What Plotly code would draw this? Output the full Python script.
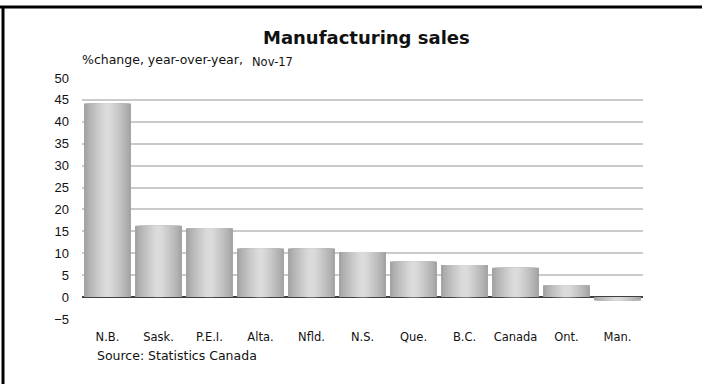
import plotly.graph_objects as go

categories = ["N.B.", "Sask.", "P.E.I.", "Alta.", "Nfld.", "N.S.", "Que.", "B.C.", "Canada", "Ont.", "Man."]
values = [44.2, 16.3, 15.7, 11.1, 11.1, 10.3, 8.1, 7.3, 6.7, 2.7, -0.8]
y_ticks = [-5, 0, 5, 10, 15, 20, 25, 30, 35, 40, 45, 50]

# layered bars to imitate the cylindrical gradient shading
n_layers = 12
layers = []
for i in range(n_layers):
    t = i / (n_layers - 1)
    w = 0.92 - t * (0.92 - 0.12)
    g = int(round(0xa2 + (0xdb - 0xa2) * (t ** 0.8)))
    layers.append((w, "#%02x%02x%02x" % (g, g, g)))

fig = go.Figure()
for w, c in layers:
    fig.add_trace(go.Bar(
        x=categories, y=values, width=w,
        marker=dict(color=c, line=dict(width=0)),
        hoverinfo="skip", showlegend=False,
    ))

L, R, T, B = 82, 59, 78, 65
W, H = 702, 384
pw, ph = W - L - R, H - T - B

def px(x):
    return (x - L) / pw

def py(y):
    return (H - B - y) / ph

fig.update_layout(
    width=W, height=H,
    margin=dict(l=L, r=R, t=T, b=B),
    paper_bgcolor="white", plot_bgcolor="white",
    barmode="overlay",
    bargap=0.08,
    font=dict(family="DejaVu Sans", color="#111"),
    xaxis=dict(
        showgrid=False, showline=False, ticks="",
        tickfont=dict(family="DejaVu Sans", size=11.5, color="#111"),
        ticklabelstandoff=9,
        fixedrange=True,
    ),
    yaxis=dict(
        range=[-5, 50], tickvals=y_ticks,
        showgrid=True, gridcolor="#cacaca", gridwidth=1.5,
        zeroline=True, zerolinecolor="#404040", zerolinewidth=2,
        showline=False, ticks="",
        tickfont=dict(family="Liberation Sans", size=13, color="#111"),
        ticklabelstandoff=12,
        fixedrange=True,
    ),
    annotations=[
        dict(text="<b>Manufacturing sales</b>", xref="paper", yref="paper",
             x=px(366), y=py(38), xanchor="center", yanchor="middle",
             showarrow=False, font=dict(family="DejaVu Sans", size=18, color="#111")),
        dict(text="%change, year-over-year,", xref="paper", yref="paper",
             x=px(80), y=py(59), xanchor="left", yanchor="middle",
             showarrow=False, font=dict(family="DejaVu Sans", size=12.5, color="#111")),
        dict(text="Nov-17", xref="paper", yref="paper",
             x=px(250), y=py(62), xanchor="left", yanchor="middle",
             showarrow=False, font=dict(family="DejaVu Sans", size=11.5, color="#111")),
        dict(text="Source: Statistics Canada", xref="paper", yref="paper",
             x=px(95), y=py(355), xanchor="left", yanchor="middle",
             showarrow=False, font=dict(family="DejaVu Sans", size=12.5, color="#111")),
    ],
    shapes=[
        dict(type="line", xref="paper", yref="paper",
             x0=px(0), x1=px(W), y0=py(7), y1=py(7),
             line=dict(color="black", width=3)),
        dict(type="line", xref="paper", yref="paper",
             x0=px(3), x1=px(3), y0=py(6), y1=py(H),
             line=dict(color="black", width=3)),
    ],
)

fig.write_html("out.html", config={"displayModeBar": False},
               post_script="document.body.style.margin='0';document.body.style.padding='0';")
